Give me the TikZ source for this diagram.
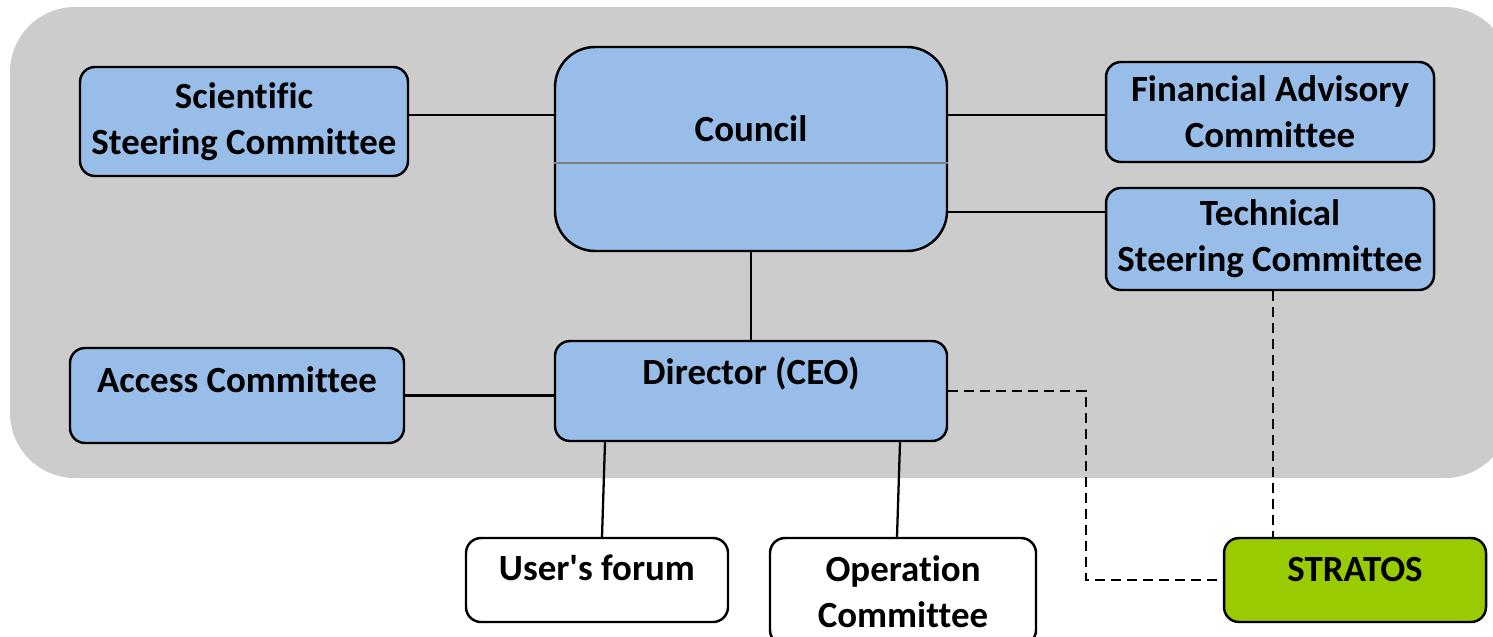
\documentclass[tikz,border=0pt]{standalone}
\usepackage{fontspec}
\setmainfont{Carlito}[Ligatures={NoCommon}]
\usepackage{tikz}

\definecolor{boxblue}{HTML}{97BDE8}
\definecolor{backgray}{HTML}{CCCCCC}
\definecolor{stratosgreen}{HTML}{99CC00}

\tikzset{
  unit/.style={draw, line width=1.4pt, rounded corners=0.3cm, fill=boxblue, align=center,
    font=\fontsize{21}{26}\selectfont\bfseries, inner sep=0pt},
  outside/.style={unit, fill=white},
  link/.style={line width=1.3pt},
  dashlink/.style={line width=1.5pt, dash pattern=on 0.2cm off 0.12cm}
}

\begin{document}
\begin{tikzpicture}
  \useasboundingbox (0,0) rectangle (29.86,-12.72);
  \fill[backgray, rounded corners=1.3cm] (0.2,-0.14) rectangle (30.2,-9.56);

  \node[unit, minimum width=6.56cm, minimum height=2.18cm] (sci) at (4.88,-2.43) {Scientific\\Steering Committee};
  \node[unit, rounded corners=0.8cm, minimum width=7.84cm, minimum height=4.08cm] (council) at (15.02,-2.98) {};
  \node[font=\fontsize{21}{26}\selectfont\bfseries] (councilname) at (15.02,-2.58) {Council};
  \draw[gray, line width=1pt] (council.west |- 0,-3.26) -- (council.east |- 0,-3.26);
  \node[unit, minimum width=6.56cm, minimum height=2.0cm] (fin) at (25.40,-2.24) {Financial Advisory\\Committee};
  \node[unit, minimum width=6.56cm, minimum height=2.04cm] (tech) at (25.40,-4.78) {Technical\\Steering Committee};
  \node[unit, minimum width=6.68cm, minimum height=1.9cm, text height=0.5cm, text depth=0.64cm] (access) at (4.74,-7.91) {Access Committee};
  \node[unit, minimum width=7.84cm, minimum height=2.0cm, text height=0.5cm, text depth=0.78cm] (director) at (15.02,-7.82) {Director (CEO)};
  \node[outside, minimum width=5.24cm, minimum height=1.68cm, text height=0.5cm, text depth=0.5cm] (users) at (11.94,-11.6) {User\textquotesingle s forum};
  \node[outside, minimum width=5.32cm, minimum height=2.14cm] (oper) at (18.06,-11.83) {Operation\\Committee};
  \node[unit, fill=stratosgreen, minimum width=5.24cm, minimum height=1.68cm, text height=0.5cm, text depth=0.46cm] (stratos) at (27.10,-11.6) {STRATOS};

  \coordinate (bend) at (21.72,-7.84);

  \draw[link] ([yshift=0.13cm]sci.east) -- ([yshift=0.13cm]sci.east -| council.west);
  \draw[link] ([yshift=-0.06cm]fin.west) -- ([yshift=-0.06cm]fin.west -| council.east);
  \draw[link] ([yshift=0.54cm]tech.west) -- ([yshift=0.54cm]tech.west -| council.east);
  \draw[link] (council.south) -- (director.north);
  \draw[link] (access.east) -- (access.east -| director.west);
  \draw[link] ([xshift=-2.92cm]director.south) -- ([xshift=0.1cm]users.north);
  \draw[link] ([xshift=2.98cm]director.south) -- ([xshift=-0.12cm]oper.north);
  \draw[dashlink] (director.east) -- (director.east -| bend) -- (bend |- stratos.west) -- (stratos.west);
  \draw[dashlink] ([xshift=0.06cm]tech.south) -- ([xshift=0.06cm]tech.south |- stratos.north);
\end{tikzpicture}
\end{document}
